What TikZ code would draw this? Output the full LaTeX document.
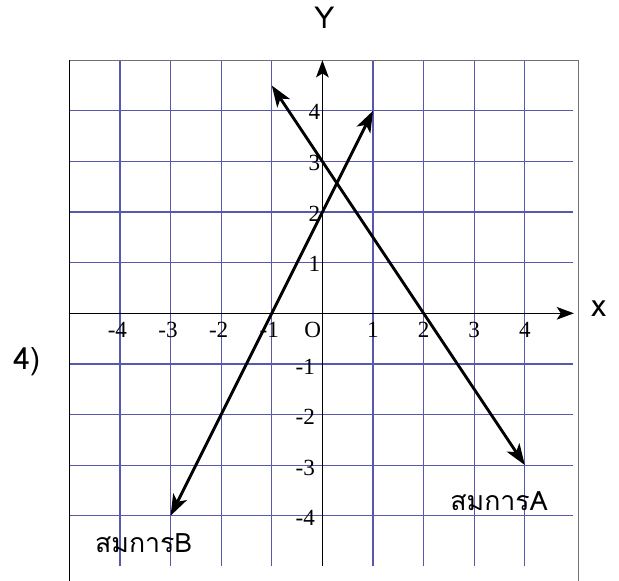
\documentclass[tikz,border=0pt]{standalone}
\usepackage{fontspec}
\setmainfont{Liberation Serif}
\newfontfamily\thaifont[Script=Thai]{Loma}
\usepackage{xcolor}
\usetikzlibrary{arrows.meta}
\definecolor{gridblue}{RGB}{88,88,172}
\definecolor{framegray}{RGB}{112,112,112}
\tikzset{ticklabel/.style={font=\fontsize{13}{15}\selectfont,inner sep=0pt},
thailabel/.style={font=\thaifont\fontsize{15}{17}\selectfont,inner sep=0pt},
gridline/.style={gridblue,line width=0.7pt}}

\begin{document}
\begin{tikzpicture}[>={Stealth[length=4.2mm,width=3mm,inset=1.1mm]}]
\useasboundingbox(-6.37,-5.27)rectangle(5.86,6.19);
% grid
\draw[gridline](-5,4)--(4.96,4)(-5,3)--(4.96,3)(-5,2)--(4.96,2)(-5,1)--(4.96,1)
(-5,-1)--(4.96,-1)(-5,-2)--(4.96,-2)(-5,-3)--(4.96,-3)(-5,-4)--(4.96,-4);
\draw[gridline](-4,-5)--(-4,5)(-3,-5)--(-3,5)(-2,-5)--(-2,5)(-1,-5)--(-1,5)
(1,-5)--(1,5)(2,-5)--(2,5)(3,-5)--(3,5)(4,-5)--(4,5);
\draw[framegray,line width=0.8pt](-5,5)--(5.06,5)--(5.06,-5.3);
\draw[line width=0.8pt](-5,5)--(-5,-5.3);
% axes
\coordinate(xs)at(-5,0);
\coordinate(xe)at(4.97,0);
\coordinate(ys)at(0,-5);
\coordinate(ye)at(0,5);
\draw[line width=0.75pt,-{Stealth[length=3.4mm,width=2.5mm,inset=0.8mm]}](xs)--(xe);
\draw[line width=0.75pt,-{Stealth[length=3.4mm,width=2.5mm,inset=0.8mm]}](ys)--(ye);
\node[font=\thaifont\fontsize{17}{19}\selectfont](ylab)at(0.04,5.84){Y};
\node[font=\thaifont\fontsize{17}{19}\selectfont](xlab)at(5.46,0.1){x};
\node[font=\thaifont\fontsize{17}{19}\selectfont](num)at(-5.84,-0.96){4)};
% lines
\coordinate(a1)at(-1,4.5);
\coordinate(a2)at(4,-3);
\coordinate(b1)at(1,4);
\coordinate(b2)at(-3,-4);
\draw[<->,line width=1.6pt](a1)--(a2);
\draw[<->,line width=1.6pt](b1)--(b2);
% tick labels
\path[ticklabel](-4.05,-0.33)node(xm4){-4}
(-3.05,-0.33)node(xm3){-3}
(-2.05,-0.33)node(xm2){-2}
(-1.05,-0.33)node(xm1){-1}
(-0.19,-0.33)node(orig){O}
(1,-0.33)node(xp1){1}
(2,-0.33)node(xp2){2}
(3,-0.33)node(xp3){3}
(4,-0.33)node(xp4){4};
\path[ticklabel](-0.16,3.97)node(yp4){4}
(-0.16,2.97)node(yp3){3}
(-0.16,1.97)node(yp2){2}
(-0.16,0.97)node(yp1){1}
(-0.34,-1.05)node(ym1){-1}
(-0.34,-2.05)node(ym2){-2}
(-0.34,-3.05)node(ym3){-3}
(-0.34,-4.05)node(ym4){-4};
% equation names
\node[thailabel](eqA)at(3.49,-3.72){สมการA};
\node[thailabel](eqB)at(-3.53,-4.54){สมการB};
\end{tikzpicture}
\end{document}
